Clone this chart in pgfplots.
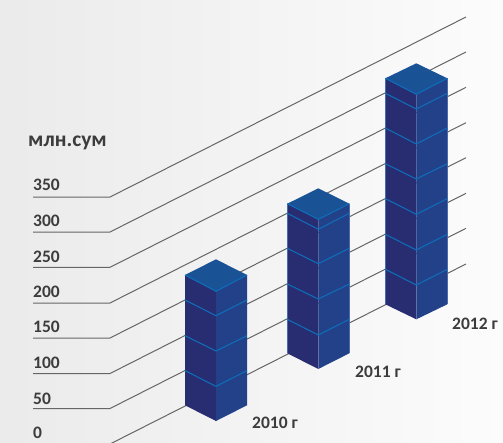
\documentclass[border=0pt]{standalone}
\usepackage{fontspec}
\setmainfont{Carlito}
\usepackage{pgfplots}
\pgfplotsset{compat=1.18}
\definecolor{txt}{HTML}{3C3C3C}
\definecolor{gridc}{HTML}{666666}
\definecolor{faceL}{HTML}{282C70}
\definecolor{faceR}{HTML}{234188}
\definecolor{faceT}{HTML}{1A5296}
\definecolor{band}{HTML}{0F6CB8}
\definecolor{edge}{HTML}{4A6AAE}
\definecolor{seam}{HTML}{6670A8}
\tikzset{
  lbl/.style={font=\fontsize{17.5}{20}\selectfont\bfseries, text=txt, anchor=base west, inner sep=0pt},
}
\pgfplotsset{
  gl/.style={draw=gridc, line width=1pt, no markers},
  fL/.style={fill=faceL, draw=none, no markers},
  fR/.style={fill=faceR, draw=none, no markers},
  fT/.style={fill=faceT, draw=none, no markers},
  bd/.style={draw=band, line width=1.1pt, no markers},
  ed/.style={draw=edge, line width=0.6pt, no markers},
  sm/.style={draw=seam, line width=0.6pt, no markers},
}
\begin{document}
\begin{tikzpicture}
\begin{axis}[
  width=503pt, height=442pt, scale only axis,
  xmin=0, xmax=503, ymin=0, ymax=442, y dir=reverse,
  hide axis,
]
% background
\addplot[draw=none, left color=white!92!black, middle color=white!92.5!black, right color=white!98.8!black, no markers]
  coordinates {(0,0) (503,0) (503,442) (0,442)} --cycle;

% grid: 350 down to 0
\addplot[gl] coordinates {(33,197) (110,197) (466,17)};
\addplot[gl] coordinates {(33,232) (110,232) (466,52)};
\addplot[gl] coordinates {(33,267.3) (110,267.3) (466,87.3)};
\addplot[gl] coordinates {(33,303) (110,303) (466,122.7)};
\addplot[gl] coordinates {(33,338) (110,338) (466,157.7)};
\addplot[gl] coordinates {(33,373.5) (110,373.5) (466,193.3)};
\addplot[gl] coordinates {(33,408.5) (110,408.5) (466,228.3)};
\addplot[gl] coordinates {(33,444) (110,444) (466,264)};

% 2010
\addplot[fL] coordinates {(185,275) (216,291.3) (216,421) (185,405.3)} --cycle;
\addplot[fR] coordinates {(247,275) (216,291.3) (216,421) (247,405.3)} --cycle;
\addplot[fT] coordinates {(185,275) (216,259.3) (247,275) (216,291.3)} --cycle;
\addplot[bd] coordinates {(185,275) (216,291.3) (247,275)};
\addplot[bd] coordinates {(185,300) (216,315.7) (247,300)};
\addplot[bd] coordinates {(185,335.7) (216,351) (247,335.7)};
\addplot[bd] coordinates {(185,370.7) (216,386.3) (247,370.7)};

% 2011
\addplot[fL] coordinates {(287.3,203.7) (318.3,219.3) (318.3,369) (287.3,353.3)} --cycle;
\addplot[fR] coordinates {(349.3,203.7) (318.3,219.3) (318.3,369) (349.3,353.3)} --cycle;
\addplot[fT] coordinates {(287.3,203.7) (318.3,188.3) (349.3,203.7) (318.3,219.3)} --cycle;
\addplot[sm] coordinates {(318.3,335) (318.3,369)};
\addplot[ed] coordinates {(287.3,203.7) (287.3,353.3)};
\addplot[ed] coordinates {(349.3,203.7) (349.3,353.3)};
\addplot[bd] coordinates {(287.3,203.7) (318.3,219.3) (349.3,203.7)};
\addplot[bd] coordinates {(287.3,213.3) (318.3,229.3) (349.3,213.3)};
\addplot[bd] coordinates {(287.3,248.3) (318.3,263.7) (349.3,248.3)};
\addplot[bd] coordinates {(287.3,284) (318.3,299) (349.3,284)};
\addplot[bd] coordinates {(287.3,319.3) (318.3,335) (349.3,319.3)};

% 2012
\addplot[fL] coordinates {(385.3,78.3) (416.3,94.3) (416.3,319.3) (385.3,304.3)} --cycle;
\addplot[fR] coordinates {(447.3,78.3) (416.3,94.3) (416.3,319.3) (447.3,304.3)} --cycle;
\addplot[fT] coordinates {(385.3,78.3) (416.3,63.3) (447.3,78.3) (416.3,94.3)} --cycle;
\addplot[sm] coordinates {(416.3,285) (416.3,319.3)};
\addplot[ed] coordinates {(385.3,78.3) (385.3,304.3)};
\addplot[ed] coordinates {(447.3,78.3) (447.3,304.3)};
\addplot[bd] coordinates {(385.3,78.3) (416.3,94.3) (447.3,78.3)};
\addplot[bd] coordinates {(385.3,93.3) (416.3,109) (447.3,93.3)};
\addplot[bd] coordinates {(385.3,128) (416.3,144) (447.3,128)};
\addplot[bd] coordinates {(385.3,163.7) (416.3,179) (447.3,163.7)};
\addplot[bd] coordinates {(385.3,198.7) (416.3,214.3) (447.3,198.7)};
\addplot[bd] coordinates {(385.3,234.3) (416.3,250) (447.3,234.3)};
\addplot[bd] coordinates {(385.3,269.3) (416.3,285) (447.3,269.3)};

% labels
\node[lbl, font=\fontsize{21.5}{24}\selectfont\bfseries] at (axis cs:28,146) {млн.сум};
\node[lbl] at (axis cs:33,190.7) {350};
\node[lbl] at (axis cs:33,226.7) {300};
\node[lbl] at (axis cs:33,262) {250};
\node[lbl] at (axis cs:33,297) {200};
\node[lbl] at (axis cs:33,332.7) {150};
\node[lbl] at (axis cs:33,368) {100};
\node[lbl] at (axis cs:33,404) {50};
\node[lbl] at (axis cs:33,438.7) {0};
\node[lbl] at (axis cs:252,428) {2010 г};
\node[lbl] at (axis cs:355,377) {2011 г};
\node[lbl] at (axis cs:452,329) {2012 г};
\end{axis}
\end{tikzpicture}
\end{document}
